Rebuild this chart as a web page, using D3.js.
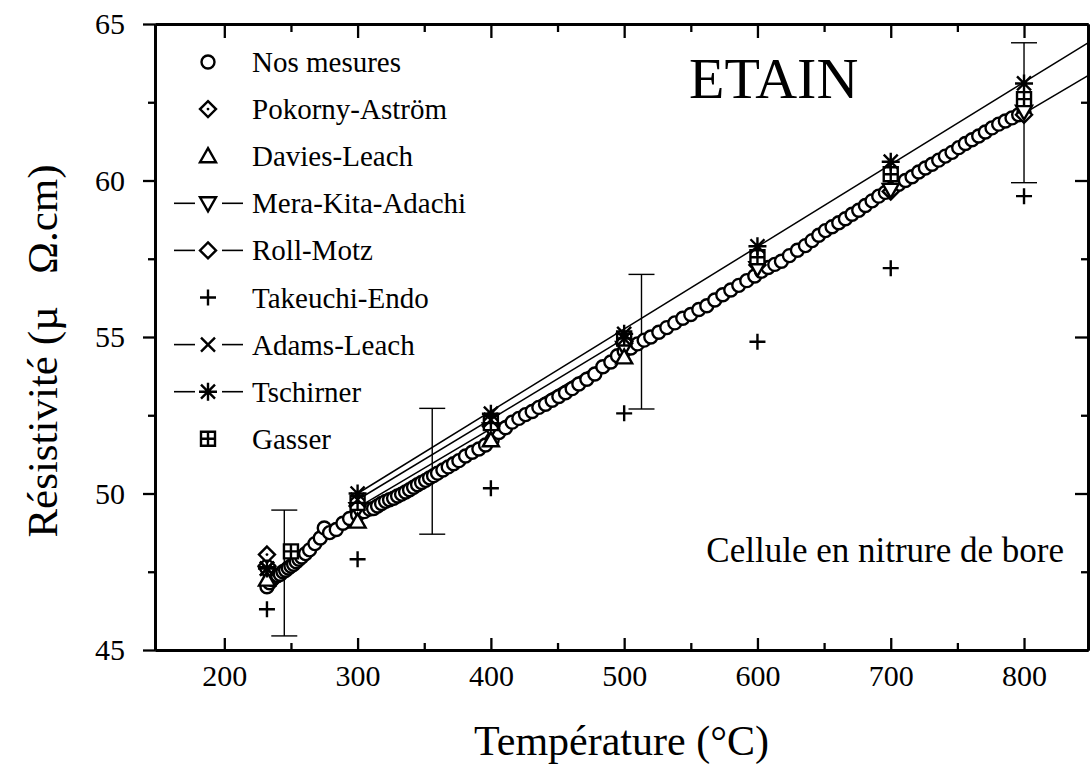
<!DOCTYPE html>
<html><head><meta charset="utf-8">
<script src="https://cdn.jsdelivr.net/npm/d3@7"></script>
<style>
html,body{margin:0;padding:0;background:#fff;}
</style></head>
<body><svg id="c" width="1090" height="764"></svg>
<script>
// ---------- data ----------
const mesuresT = [232,234,236,238,240,242,244,246,248,250,252,254,256,258,261,264,268,272,275,279,284,289,294,300,305,309,312,315,318,321,324,327,330,333,336,339,342,345,348,351,354,357,360,364,368,372,376,381,386,391,396,401,406,411,416,421,426,431,436,441,446,451,456,461,466,472,478,484,490,495,500,505,510,515,520,526,532,538,544,550,556,562,568,574,580,586,592,598,603,608,613,618,624,630,636,641,646,651,656,661,666,671,676,681,686,691,696,701,706,711,716,721,726,731,736,741,746,751,756,761,766,771,776,781,786,791,796,800];
const mesuresR = [47.02,47.15,47.25,47.33,47.38,47.42,47.5,47.55,47.62,47.68,47.74,47.82,47.9,47.97,48.08,48.2,48.4,48.58,48.9,48.75,48.85,49.05,49.2,49.32,49.42,49.5,49.52,49.6,49.68,49.75,49.8,49.85,49.92,49.98,50.05,50.12,50.2,50.28,50.35,50.42,50.5,50.57,50.65,50.75,50.85,50.95,51.05,51.2,51.32,51.42,51.55,51.72,51.95,52.1,52.28,52.4,52.52,52.62,52.75,52.85,52.98,53.1,53.22,53.35,53.5,53.65,53.82,54.05,54.2,54.4,54.55,54.65,54.78,54.9,55.0,55.15,55.3,55.45,55.6,55.72,55.88,56.0,56.18,56.35,56.5,56.65,56.8,56.95,57.1,57.22,57.32,57.42,57.6,57.77,57.92,58.08,58.25,58.4,58.52,58.65,58.78,58.92,59.05,59.2,59.35,59.5,59.62,59.75,59.88,60.0,60.12,60.27,60.4,60.52,60.65,60.78,60.9,61.05,61.18,61.3,61.42,61.55,61.68,61.8,61.9,62.0,62.1,62.18];

const pokornyT = [232];
const pokornyR = [48.05];
const daviesT = [232, 300, 400, 500];
const daviesR = [47.25, 49.1, 51.7, 54.35];
const meraT = [232, 300, 400, 500, 600, 700, 800];
const meraR = [47.45, 49.5, 52.05, 54.65, 57.2, 59.7, 62.2];
const rollT = [232, 300, 400, 500, 600, 700, 800];
const rollR = [47.7, 49.6, 52.15, 54.8, 57.3, 59.65, 62.1];
const takeuchiT = [232, 300, 400, 500, 600, 700, 800];
const takeuchiR = [46.3, 47.9, 50.17, 52.56, 54.85, 57.2, 59.5];
const adamsT = [232, 300, 400, 500];
const adamsR = [47.6, 49.8, 52.35, 54.95];
const tschirnerT = [232, 300, 400, 500, 600, 700, 800];
const tschirnerR = [47.6, 50.0, 52.55, 55.1, 57.9, 60.6, 63.1];
const gasserT = [250, 300, 400, 500, 600, 700, 800];
const gasserR = [48.15, 49.7, 52.25, 54.95, 57.55, 60.2, 62.6];

// fitted lines (end points)
const tschirnerLineT = [300, 848];
const tschirnerLineR = [50.0, 64.4];
const rollLineT = [300, 848];
const rollLineR = [49.55, 63.35];
const adamsLineT = [300, 500];
const adamsLineR = [49.8, 54.95];

// error bars
const errT = [245, 356, 513, 800];
const errLow = [45.45, 48.7, 52.7, 59.93];
const errHigh = [49.47, 52.72, 57.0, 64.4];

const xMajor = [200, 300, 400, 500, 600, 700, 800];
const xMinor = [250, 350, 450, 550, 650, 750];
const yMajor = [45, 50, 55, 60, 65];
const yMinor = [47.5, 52.5, 57.5, 62.5];

const legendNames = ["Nos mesures","Pokorny-Aström","Davies-Leach","Mera-Kita-Adachi","Roll-Motz","Takeuchi-Endo","Adams-Leach","Tschirner","Gasser"];
const legendSymbols = ["circle","diamondDot","triUp","triDown","diamond","plus","cross","star","gasser"];
const legendLines = [false,false,false,true,true,false,true,true,false];

// ---------- chart ----------
const FONT = "'Liberation Serif', 'DejaVu Serif', 'Times New Roman', serif";
const svg = d3.select("#c");
const L = 155, R = 1088, T = 24, B = 650;
const x = d3.scaleLinear().domain([148, 848]).range([L, R]);
const y = d3.scaleLinear().domain([45, 65]).range([B, T]);

const sym = {
  circle: "M6.5,0A6.5,6.5 0 1,1 -6.5,0A6.5,6.5 0 1,1 6.5,0Z",
  diamond: "M0,-8L8,0L0,8L-8,0Z",
  diamondDot: "M0,-8L8,0L0,8L-8,0Z",
  triUp: "M0,-8L8,6L-8,6Z",
  triDown: "M0,8L8,-6L-8,-6Z",
  plus: "M-8,0H8M0,-8V8",
  cross: "M-7,-7L7,7M-7,7L7,-7",
  star: "M-9,0H9M0,-9V9M-7,-7L7,7M-7,7L7,-7",
  gasser: "M-7,-7H7V7H-7ZM-7,0H7M0,-7V7"
};
function drawSym(g, type, cx, cy) {
  const p = g.append("path").attr("d", sym[type]).attr("transform", `translate(${cx},${cy})`)
    .attr("stroke", "#000").attr("stroke-width", 2.4);
  if (type === "plus" || type === "cross" || type === "star") p.attr("fill", "none");
  else p.attr("fill", "#fff");
  if (type === "diamondDot") g.append("circle").attr("cx", cx).attr("cy", cy).attr("r", 1.4).attr("fill", "#000");
}

const plot = svg.append("g");
// lines
const lineGen = d3.line().x(d => x(d[0])).y(d => y(d[1]));
[[tschirnerLineT, tschirnerLineR],[rollLineT, rollLineR],[adamsLineT, adamsLineR]].forEach(([ts, rs]) => {
  plot.append("path").attr("d", lineGen(ts.map((t, i) => [t, rs[i]])))
    .attr("fill", "none").attr("stroke", "#000").attr("stroke-width", 1.5);
});
// error bars
errT.forEach((t, i) => {
  const g = plot.append("g").attr("stroke", "#000").attr("stroke-width", 1.4);
  g.append("line").attr("x1", x(t)).attr("x2", x(t)).attr("y1", y(errLow[i])).attr("y2", y(errHigh[i]));
  g.append("line").attr("x1", x(t) - 13).attr("x2", x(t) + 13).attr("y1", y(errLow[i])).attr("y2", y(errLow[i]));
  g.append("line").attr("x1", x(t) - 13).attr("x2", x(t) + 13).attr("y1", y(errHigh[i])).attr("y2", y(errHigh[i]));
});
// measurements
mesuresT.forEach((t, i) => drawSym(plot, "circle", x(t), y(mesuresR[i])));
// other series
const series = [
  [rollT, rollR, "diamond"], [meraT, meraR, "triDown"], [daviesT, daviesR, "triUp"],
  [pokornyT, pokornyR, "diamondDot"], [gasserT, gasserR, "gasser"], [adamsT, adamsR, "cross"],
  [tschirnerT, tschirnerR, "star"], [takeuchiT, takeuchiR, "plus"]
];
series.forEach(([ts, rs, s]) => ts.forEach((t, i) => drawSym(plot, s, x(t), y(rs[i]))));

// axes
function styleAxis(g) {
  g.attr("font-family", null).attr("font-size", null);
  g.selectAll("path.domain").attr("stroke", "#000").attr("stroke-width", 2.8);
  g.selectAll(".tick line").attr("stroke", "#000").attr("stroke-width", 2.3);
  g.selectAll("text").style("font-size", "30px").style("font-family", FONT).attr("fill", "#000");
}
svg.append("g").attr("transform", `translate(0,${B})`)
  .call(d3.axisBottom(x).tickValues(xMajor).tickSize(-12).tickSizeOuter(0).tickPadding(15).tickFormat(d3.format("d")))
  .call(styleAxis);
svg.append("g").attr("transform", `translate(0,${B})`)
  .call(d3.axisBottom(x).tickValues(xMinor).tickSize(-7).tickSizeOuter(0).tickFormat(""))
  .call(styleAxis);
svg.append("g").attr("transform", `translate(0,${T})`)
  .call(d3.axisTop(x).tickValues(xMajor).tickSize(-14).tickSizeOuter(0).tickFormat(""))
  .call(styleAxis);
svg.append("g").attr("transform", `translate(0,${T})`)
  .call(d3.axisTop(x).tickValues(xMinor).tickSize(-8).tickSizeOuter(0).tickFormat(""))
  .call(styleAxis);
svg.append("g").attr("transform", `translate(${L},0)`)
  .call(d3.axisLeft(y).tickValues(yMajor).tickSize(12).tickSizeOuter(0).tickPadding(18).tickFormat(d3.format("d")))
  .call(styleAxis);
svg.append("g").attr("transform", `translate(${L},0)`)
  .call(d3.axisLeft(y).tickValues(yMinor).tickSize(7).tickSizeOuter(0).tickFormat(""))
  .call(styleAxis);
svg.append("g").attr("transform", `translate(${R},0)`)
  .call(d3.axisRight(y).tickValues(yMajor).tickSize(-13).tickSizeOuter(0).tickFormat(""))
  .call(styleAxis);
svg.append("g").attr("transform", `translate(${R},0)`)
  .call(d3.axisRight(y).tickValues(yMinor).tickSize(-7).tickSizeOuter(0).tickFormat(""))
  .call(styleAxis);

function txt(sel) { return sel.style("font-family", FONT).attr("fill", "#000"); }
// axis titles
txt(svg.append("text")).attr("x", (L + R) / 2).attr("y", 755).attr("text-anchor", "middle")
  .style("font-size", "42px").text("Température (°C)");
txt(svg.append("text")).attr("transform", `translate(57,${(T + B) / 2 + 14}) rotate(-90)`).attr("text-anchor", "middle")
  .style("font-size", "43px").style("white-space", "pre").text("Résistivité (µ   Ω.cm)");

// annotations
txt(svg.append("text")).attr("x", 689).attr("y", 98).style("font-size", "58px").text("ETAIN");
txt(svg.append("text")).attr("x", 1064).attr("y", 562).attr("text-anchor", "end").style("font-size", "35px").text("Cellule en nitrure de bore");

// legend
const lg = svg.append("g");
legendNames.forEach((name, i) => {
  const cy = 62 + i * 47.1;
  const cx = 208;
  if (legendLines[i]) {
    lg.append("line").attr("x1", cx - 34).attr("x2", cx - 13).attr("y1", cy).attr("y2", cy).attr("stroke", "#000").attr("stroke-width", 1.6);
    lg.append("line").attr("x1", cx + 14).attr("x2", cx + 35).attr("y1", cy).attr("y2", cy).attr("stroke", "#000").attr("stroke-width", 1.6);
  }
  drawSym(lg, legendSymbols[i], cx, cy);
  txt(lg.append("text")).attr("x", 252).attr("y", cy + 10).style("font-size", "29px").text(name);
});
</script></body></html>
